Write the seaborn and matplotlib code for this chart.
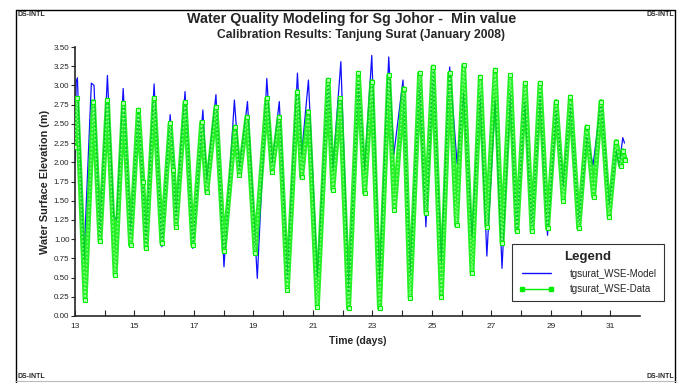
import matplotlib
matplotlib.use("Agg")
import matplotlib.pyplot as plt
from matplotlib.lines import Line2D
import pandas as pd
import seaborn as sns

# Model water surface elevation (turning points), days vs metres
model_days = [13.00, 13.04, 13.08, 13.30, 13.55, 13.64, 13.84, 14.09, 14.30, 14.40,
              14.62, 14.87, 15.13, 15.25, 15.33, 15.39, 15.66, 15.92, 16.20, 16.30,
              16.40, 16.70, 16.96, 17.30, 17.43, 17.74, 18.01, 18.36, 18.53, 18.80,
              19.13, 19.45, 19.63, 19.87, 20.14, 20.48, 20.62, 20.85, 21.15, 21.51,
              21.67, 21.94, 22.20, 22.53, 22.74, 22.98, 23.24, 23.55, 23.72, 24.03,
              24.27, 24.59, 24.80, 25.04, 25.32, 25.60, 25.85, 26.07, 26.35, 26.63,
              26.85, 27.13, 27.36, 27.64, 27.86, 28.12, 28.37, 28.64, 28.89, 29.18,
              29.42, 29.66, 29.94, 30.21, 30.42, 30.69, 30.96, 31.20, 31.30, 31.42,
              31.48]
model_wse = [2.00, 3.05, 3.10, 0.73, 3.03, 3.00, 1.00, 3.13, 1.30, 1.25,
             2.96, 1.05, 2.65, 1.95, 1.42, 0.95, 3.02, 0.90, 2.62, 2.05,
             1.25, 2.92, 0.88, 2.68, 1.75, 2.88, 0.64, 2.81, 1.90, 2.79,
             0.49, 3.09, 1.98, 2.79, 0.47, 3.16, 2.10, 3.07, 0.51, 3.05,
             1.90, 3.31, 0.30, 3.05, 1.90, 3.39, 0.45, 3.37, 2.10, 3.07,
             0.52, 3.07, 1.16, 3.20, 0.70, 3.24, 1.98, 2.90, 1.03, 2.90,
             0.78, 2.80, 0.62, 2.90, 1.10, 2.80, 1.15, 2.90, 1.05, 2.70,
             1.68, 2.75, 1.20, 2.34, 1.96, 2.79, 1.44, 2.15, 1.95, 2.32,
             2.25]

# Observed water surface elevation (turning points)
data_days = [13.00, 13.06, 13.34, 13.62, 13.84, 14.09, 14.35, 14.63, 14.87, 15.13,
             15.28, 15.39, 15.66, 15.92, 16.20, 16.31, 16.40, 16.70, 16.96, 17.26,
             17.43, 17.74, 18.01, 18.38, 18.53, 18.78, 19.06, 19.45, 19.63, 19.87,
             20.14, 20.48, 20.62, 20.85, 21.15, 21.51, 21.67, 21.92, 22.20, 22.53,
             22.74, 22.98, 23.24, 23.55, 23.74, 24.05, 24.27, 24.59, 24.80, 25.04,
             25.32, 25.60, 25.83, 26.07, 26.35, 26.63, 26.85, 27.13, 27.36, 27.64,
             27.86, 28.14, 28.37, 28.64, 28.89, 29.18, 29.42, 29.66, 29.94, 30.21,
             30.44, 30.69, 30.96, 31.20, 31.35, 31.42, 31.51]
data_wse = [2.20, 2.83, 0.21, 2.79, 0.97, 2.81, 0.53, 2.77, 0.92, 2.68,
            1.75, 0.88, 2.83, 0.95, 2.51, 1.90, 1.16, 2.78, 0.92, 2.52,
            1.61, 2.72, 0.84, 2.46, 1.83, 2.59, 0.82, 2.83, 1.88, 2.59,
            0.34, 2.92, 1.81, 2.66, 0.12, 3.07, 1.64, 2.83, 0.10, 3.16,
            1.60, 3.05, 0.10, 3.13, 1.38, 2.96, 0.23, 3.16, 1.34, 3.24,
            0.25, 3.16, 1.18, 3.26, 0.56, 3.11, 1.16, 3.20, 0.95, 3.13,
            1.10, 3.03, 1.10, 3.03, 1.14, 2.79, 1.50, 2.85, 1.14, 2.46,
            1.55, 2.79, 1.29, 2.27, 1.95, 2.15, 2.03]

x_ticks = [13, 15, 17, 19, 21, 23, 25, 27, 29, 31]
y_ticks = [0.00, 0.25, 0.50, 0.75, 1.00, 1.25, 1.50, 1.75, 2.00, 2.25, 2.50,
           2.75, 3.00, 3.25, 3.50]

model_df = pd.DataFrame({"day": model_days, "wse": model_wse})
data_df = pd.DataFrame({"day": data_days, "wse": data_wse})

sns.set_style("ticks")
plt.rcParams["font.family"] = ["Liberation Sans Narrow", "Liberation Sans", "DejaVu Sans"]
SANS = ["Liberation Sans", "DejaVu Sans"]

W, H = 678, 383
fig = plt.figure(figsize=(W / 100, H / 100), dpi=100)
ax = fig.add_axes([75 / W, 1 - 316 / H, (640 - 75) / W, (316 - 47) / H])

BLUE = "#1010ff"
GREEN = "#00ee00"

sns.lineplot(data=model_df, x="day", y="wse", ax=ax, color=BLUE, lw=0.9,
             estimator=None, sort=False, zorder=2)
sns.lineplot(data=data_df, x="day", y="wse", ax=ax, color=GREEN, lw=3.6,
             estimator=None, sort=False, zorder=3, alpha=0.85)
sns.lineplot(data=data_df, x="day", y="wse", ax=ax, color="#9dff9d", lw=1.0,
             estimator=None, sort=False, zorder=4,
             marker="s", markersize=3.0, markerfacecolor="#b8ffb8",
             markeredgecolor=GREEN, markeredgewidth=0.8)
ax.lines[-1].set_linestyle((0, (1.0, 1.8)))

ax.set_xlim(13, 32)
ax.set_ylim(0, 3.5)
ax.set_xticks(x_ticks)
ax.set_xticks(range(14, 32, 2), minor=True)
ax.set_yticks(y_ticks)
ax.set_yticklabels([f"{v:.2f}" for v in y_ticks])
ax.tick_params(axis="x", which="both", direction="in", length=4, width=0.8,
               labelsize=6, pad=5)
ax.tick_params(axis="y", direction="out", length=3, width=0.8, labelsize=5.8, pad=1)
for s in ("top", "right"):
    ax.spines[s].set_visible(False)
for s in ("left", "bottom"):
    ax.spines[s].set_linewidth(1.2)
ax.set_xlabel("Time (days)", fontsize=7.5, fontweight="bold", family=SANS,
              labelpad=4)
ax.set_ylabel("Water Surface Elevation (m)", fontsize=7.8, fontweight="bold",
              family=SANS, labelpad=3)

# titles
fig.text(352 / W, 1 - 19 / H, "Water Quality Modeling for Sg Johor -  Min value",
         ha="center", va="center", fontsize=10.3, fontweight="bold", family=SANS)
fig.text(361 / W, 1 - 35 / H, "Calibration Results: Tanjung Surat (January 2008)",
         ha="center", va="center", fontsize=8.7, fontweight="bold", family=SANS)

# page frame
def fline(x0, y0, x1, y1, **kw):
    fig.add_artist(Line2D([x0 / W, x1 / W], [1 - y0 / H, 1 - y1 / H],
                          transform=fig.transFigure, **kw))

fline(16, 10, 675, 10, color="black", lw=1.0)
fline(16, 10, 16, 383, color="black", lw=1.0)
fline(675, 10, 675, 383, color="black", lw=1.0)
fline(16, 381, 675, 381, color="#bbbbbb", lw=0.8)

for (x, y, ha) in [(17, 14, "left"), (674, 14, "right"),
                   (17, 377, "left"), (674, 377, "right")]:
    fig.text(x / W, 1 - y / H, "DS-INTL", ha=ha, va="center", fontsize=5,
             fontweight="bold")

# legend
handles = [Line2D([], [], color=BLUE, lw=1.0),
           Line2D([], [], color=GREEN, lw=1.0, marker="s", markersize=2.5)]
leg = fig.legend(handles, ["tgsurat_WSE-Model", "tgsurat_WSE-Data"],
                 loc="upper left", bbox_to_anchor=(512 / W, 1 - 244 / H),
                 title="Legend", fontsize=7, title_fontsize=9.5,
                 frameon=True, fancybox=False, edgecolor="black",
                 handlelength=3.6, handletextpad=1.6, borderpad=0.75,
                 labelspacing=0.55, numpoints=2, markerscale=1.0,
                 borderaxespad=0)
leg.get_title().set_fontweight("bold")
leg.get_title().set_family(SANS)
leg.get_frame().set_linewidth(0.8)
leg._legend_box.align = "center"

fig.savefig("out.png", dpi=100)
